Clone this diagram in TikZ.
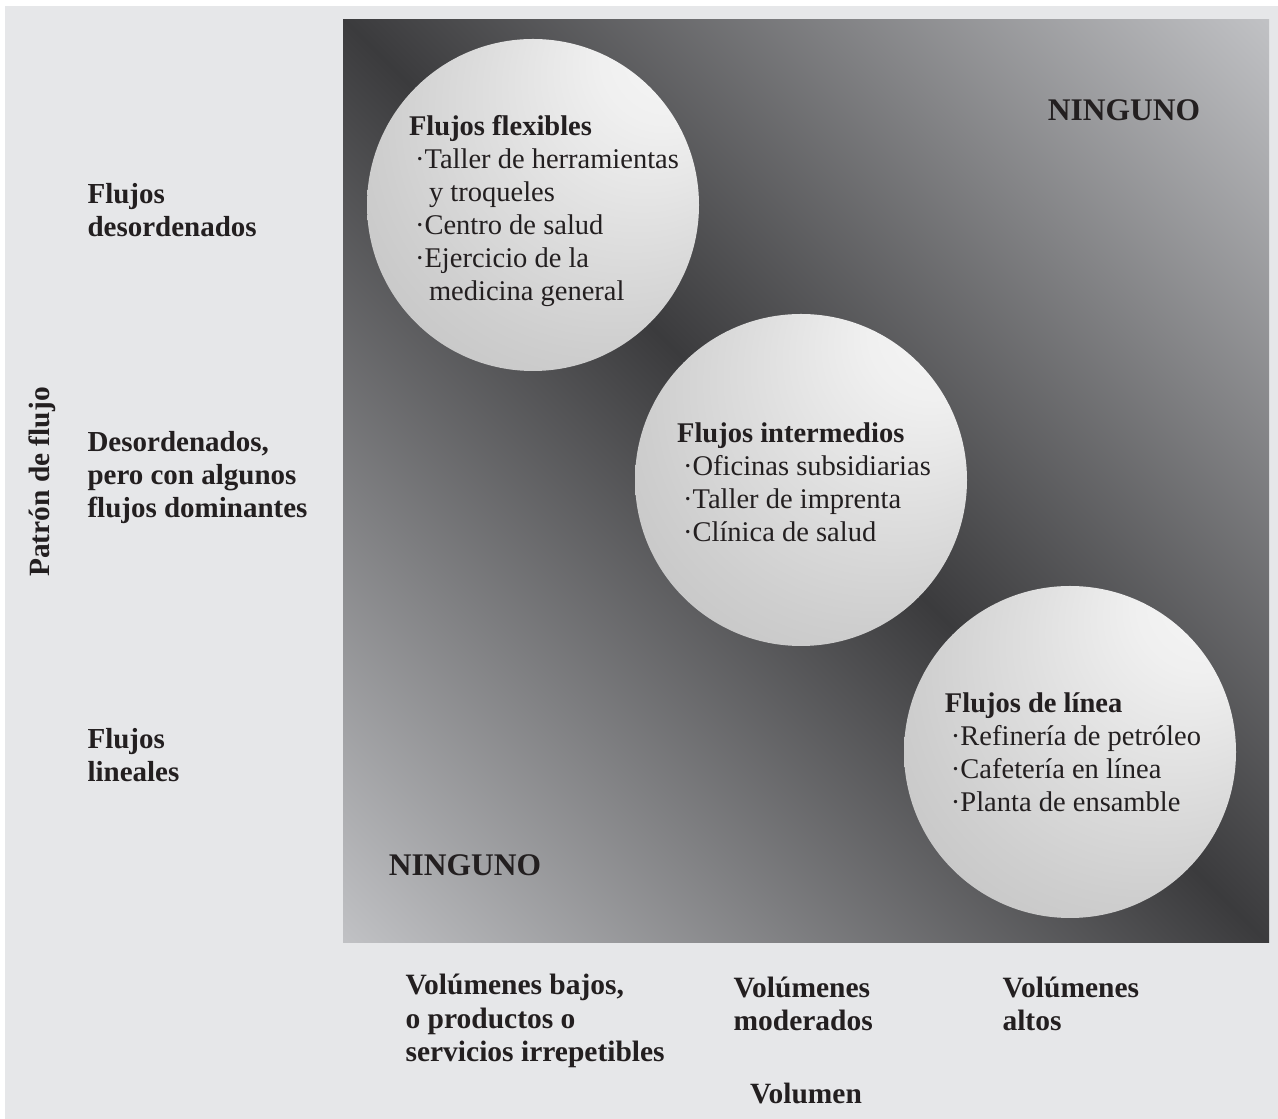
\documentclass[tikz,border=0pt]{standalone}
\usepackage{fontspec}
\setmainfont{Liberation Serif}
\usepackage{tikz}
\usetikzlibrary{positioning}
\definecolor{pagegray}{HTML}{E6E7E9}
\definecolor{darkband}{HTML}{3B3B3D}
\definecolor{lightband}{HTML}{C8C9CC}
\definecolor{inkc}{HTML}{231F20}
\newcommand{\Punto}{\hspace*{6pt}\textperiodcentered}
\newcommand{\Sigue}{\hspace*{20pt}}
\pgfdeclarehorizontalshading{band}{100bp}{%
  color(0bp)=(lightband); color(12.5bp)=(lightband); color(50bp)=(darkband);
  color(87.5bp)=(lightband); color(100bp)=(lightband)}
\pgfdeclareradialshading{sphere}{\pgfpoint{19bp}{21bp}}{%
  color(0bp)=(black!3); color(8bp)=(black!6); color(18bp)=(black!13);
  color(27bp)=(black!19); color(34bp)=(black!23); color(44bp)=(black!33);
  color(50bp)=(black!40)}

\begin{document}
\begin{tikzpicture}[x=1pt,y=1pt
        ,every node/.style={text=inkc}
        ,ball/.style = {circle, inner sep=0pt, minimum size=332pt,
            path picture={\shade[shading=sphere]
              (path picture bounding box.center) circle (208pt);}}
        ,balltext/.style = {align=left, font=\fontsize{28.5}{33}\selectfont}
        ,rowlabel/.style = {anchor=west, align=left, font=\fontsize{29}{33}\selectfont\bfseries}
        ,collabel/.style = {anchor=west, align=left, font=\fontsize{29.5}{33.5}\selectfont\bfseries}
        ,legend/.style = {font=\fontsize{29.4}{33}\selectfont\bfseries}
        ,none/.style = {font=\fontsize{31.5}{33}\selectfont\bfseries}
      ]
      \useasboundingbox (0,0) rectangle (1278,1119);
      \fill[pagegray] (5,0) rectangle (1278,1113);

      % fondo del cuadro
      \shade[shading=band, shading angle=45] (343,176) rectangle (1269,1099);

      \node[ball](flex) at (533,914) {};
      \node[ball](inter) at (801,639) {};
      \node[ball](linea) at (1070,367) {};

      \node[balltext, xshift=11pt, yshift=-6pt](flextxt) at (flex) {\textbf{Flujos flexibles}\\
        \Punto Taller de herramientas\\
        \Sigue y troqueles\\
        \Punto Centro de salud\\
        \Punto Ejercicio de la\\
        \Sigue medicina general};
      \node[balltext, xshift=3pt, yshift=-2pt](intertxt) at (inter) {\textbf{Flujos intermedios}\\
        \Punto Oficinas subsidiarias\\
        \Punto Taller de imprenta\\
        \Punto Clínica de salud};
      \node[balltext, xshift=3pt](lineatxt) at (linea) {\textbf{Flujos de línea}\\
        \Punto Refinería de petróleo\\
        \Punto Cafetería en línea\\
        \Punto Planta de ensamble};

      \node[none](ningA) at (1124,1009) {NINGUNO};
      \node[none](ningB) at (465,254) {NINGUNO};

      % ejes
      \node[legend, rotate=90](patron) at (42,637) {Patrón de flujo};
      \node[rowlabel](desord) at (84,909) {Flujos\\desordenados};
      \node[rowlabel](domin) at (84,641) {Desordenados,\\pero con algunos\\flujos dominantes};
      \node[rowlabel](lineal) at (84,364) {Flujos\\lineales};

      \node[collabel](bajos) at (402,98) {Volúmenes bajos,\\o productos o\\servicios irrepetibles};
      \node[collabel](moder) at (730,115) {Volúmenes\\moderados};
      \node[collabel](altos) at (999,115) {Volúmenes\\altos};
      \node[legend](volumen) at (806,25) {Volumen};
    \end{tikzpicture}
\end{document}
